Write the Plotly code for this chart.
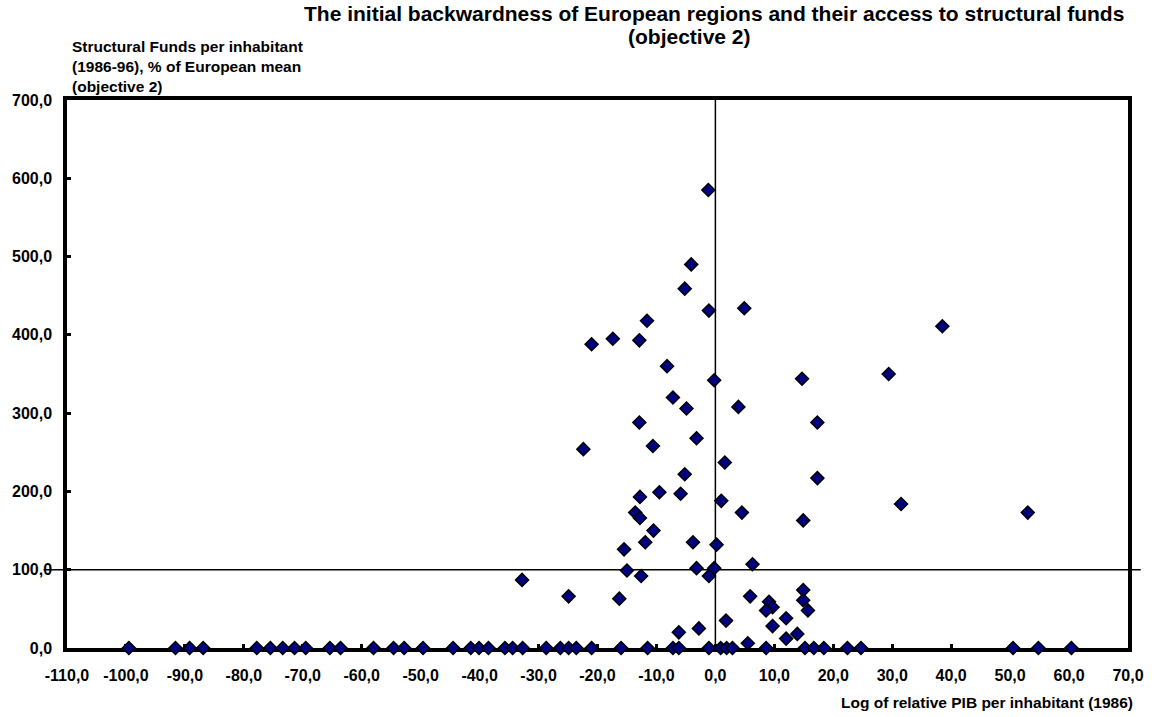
#!/usr/bin/env python3

import plotly.graph_objs as go

# regions with objective 2 funds (log relative GDP per inhabitant, funds % of EU mean)
pib_log = [-1.2, -4.1, -5.2, -1.1, 4.9, -11.6, -17.4, -12.9, -21.0, 38.5,
           -8.2, -0.2, 14.7, 29.4, -7.2, -4.9, 3.9, -12.9, 17.3, -3.2,
           -22.4, -10.6, 1.6, -5.2, 17.3, -12.8, -9.5, -5.9, 1.0, 31.5,
           4.5, 53.0, 14.9, -13.6, -12.8, -10.5, -15.5, -11.9, -3.8, 0.2,
           6.3, -15.0, -3.2, -0.2, -12.6, -1.1, -32.8, -24.9, -16.3, 5.9,
           9.1, 9.7, 8.6, 14.9, 14.9, 15.7, 12.0, 1.8, 9.7, -2.8,
           -6.2, 12.0, 13.9, 5.5]
funds = [585, 490, 459, 431, 434, 418, 395, 393, 388, 411,
         360, 342, 344, 350, 320, 306, 308, 288, 288, 268,
         254, 258, 237, 222, 217, 193, 199, 197, 188, 184,
         173, 173, 163, 173, 166, 150, 126, 135, 135, 132,
         107, 99, 102, 102, 92, 92, 87, 66, 63, 66,
         59, 52, 48, 74, 61, 48, 38, 35, 28, 25,
         20, 12, 18, 6]

# regions that received nothing
pib_log_zero = [-99.5, -91.6, -89.2, -86.9, -77.8, -75.5, -73.4, -71.4, -69.5, -65.4,
                -63.6, -58.0, -54.6, -52.8, -49.6, -44.5, -41.5, -40.1, -38.5, -35.7,
                -34.4, -32.7, -28.7, -26.3, -24.9, -23.6, -21.0, -16.0, -11.5, -7.2,
                -6.2, -1.1, 0.9, 1.9, 2.9, 8.6, 15.2, 16.7, 18.4, 22.4,
                24.7, 50.5, 54.8, 60.4]
funds_zero = [0] * len(pib_log_zero)

x_ticks = list(range(-110, 71, 10))
x_labels = ['<b>' + f'{v:.1f}'.replace('.', ',') + '</b>' for v in x_ticks]
y_ticks = list(range(0, 701, 100))
y_labels = ['<b>' + f'{v:.1f}'.replace('.', ',') + '</b>' for v in y_ticks]

font = 'Liberation Sans, Arial, sans-serif'
marker = {'symbol': 'diamond', 'size': 10, 'color': '#000080',
          'line': {'color': 'black', 'width': 1.5}}

fig = go.Figure()
fig.add_scatter(x=pib_log + pib_log_zero,
                y=funds + funds_zero,
                mode='markers',
                marker=marker,
                cliponaxis=False,
                showlegend=False)

# reference lines
fig.add_shape(type='line', xref='x', yref='y', x0=0, x1=0, y0=0, y1=700,
              line={'color': 'black', 'width': 1.5}, layer='below')
fig.add_shape(type='line', xref='paper', yref='y', x0=-0.022, x1=1.012, y0=100, y1=100,
              line={'color': 'black', 'width': 1.5}, layer='below')

axis_style = dict(showline=True, linecolor='black', linewidth=3.5, mirror=True,
                  showgrid=False, zeroline=False, ticks='inside', ticklen=4,
                  tickwidth=3, tickcolor='black', layer='below traces',
                  tickfont={'family': font, 'size': 16, 'color': 'black'})

fig.update_xaxes(range=[-110, 70], tickvals=x_ticks, ticktext=x_labels,
                 ticklabelstandoff=10, **axis_style)
fig.update_yaxes(range=[0, 700], tickvals=y_ticks, ticktext=y_labels,
                 ticklabelstandoff=8, **axis_style)

title_font = {'family': font, 'size': 21, 'color': 'black'}
lab_font = {'family': font, 'size': 16, 'color': 'black'}
fig.add_annotation(text='<b>The initial backwardness of European regions and their access to structural funds</b>',
                   xref='paper', yref='paper', x=0.61, y=1.157, xanchor='center', yanchor='middle',
                   showarrow=False, font=title_font)
fig.add_annotation(text='<b>(objective 2)</b>',
                   xref='paper', yref='paper', x=0.587, y=1.115, xanchor='center', yanchor='middle',
                   showarrow=False, font=title_font)
fig.add_annotation(text='<b>Structural Funds per inhabitant<br>(1986-96), % of European mean<br>(objective 2)</b>',
                   xref='paper', yref='paper', x=0.003, y=1.006, xanchor='left', yanchor='bottom',
                   align='left', showarrow=False, font={**lab_font, 'size': 15.5})
fig.add_annotation(text='<b>Log of relative PIB per inhabitant (1986)</b>',
                   xref='paper', yref='paper', x=1.007, y=-0.1, xanchor='right', yanchor='middle',
                   showarrow=False, font={**lab_font, 'size': 15.5})

fig.update_layout(width=1156, height=717,
                  margin={'l': 64, 'r': 21, 't': 100, 'b': 69},
                  paper_bgcolor='white', plot_bgcolor='rgba(0,0,0,0)',
                  font={'family': font, 'color': 'black'})

# drop the page margin so the figure sits at the window's corner
fig.write_html('out.html', config={'displayModeBar': False},
               post_script="document.body.style.margin='0';document.body.style.overflow='hidden';")
